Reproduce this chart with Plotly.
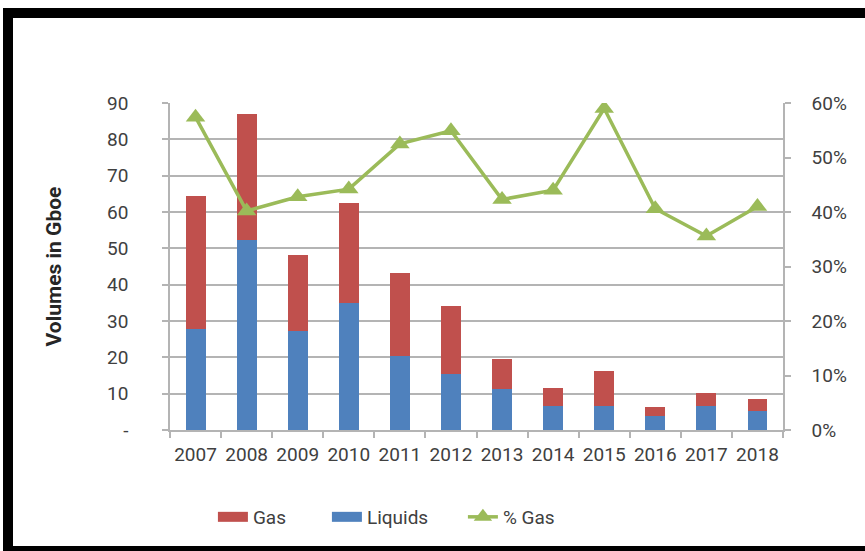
import plotly.graph_objects as go

years = ["2007", "2008", "2009", "2010", "2011", "2012", "2013", "2014", "2015", "2016", "2017", "2018"]
liquids = [27.8, 52.3, 27.3, 34.9, 20.5, 15.4, 11.3, 6.6, 6.6, 3.9, 6.6, 5.2]
gas = [36.7, 34.6, 20.9, 27.5, 22.8, 18.6, 8.2, 5.0, 9.7, 2.3, 3.5, 3.3]
pct_gas = [0.574, 0.402, 0.428, 0.442, 0.525, 0.549, 0.423, 0.440, 0.590, 0.406, 0.356, 0.410]

left_ticks = [0, 10, 20, 30, 40, 50, 60, 70, 80, 90]
left_ticktext = ["-", "10", "20", "30", "40", "50", "60", "70", "80", "90"]

FONT = "Roboto, Arial, sans-serif"
TICK_COLOR = "#404040"
GRID = "#b4b4b4"
C_GAS = "#c0504d"
C_LIQ = "#4f81bd"
C_PCT = "#9bbb59"

fig = go.Figure()
fig.add_trace(go.Bar(x=years, y=liquids, name="Liquids", marker=dict(color=C_LIQ, line=dict(width=0)),
                     showlegend=False))
fig.add_trace(go.Bar(x=years, y=gas, name="Gas", marker=dict(color=C_GAS, line=dict(width=0)),
                     showlegend=False))
fig.add_trace(go.Scatter(x=years, y=pct_gas, name="% Gas", yaxis="y2", mode="lines+markers",
                         line=dict(color=C_PCT, width=3.5),
                         marker=dict(symbol="triangle-up", size=17, color=C_PCT),
                         legendrank=3, legendwidth=70))
# legend-only entries drawn as wide swatches (like the original)
fig.add_trace(go.Scatter(x=[None], y=[None], mode="lines", name="Gas",
                         line=dict(color=C_GAS, width=10), legendrank=1, legendwidth=69))
fig.add_trace(go.Scatter(x=[None], y=[None], mode="lines", name="Liquids",
                         line=dict(color=C_LIQ, width=10), legendrank=2, legendwidth=91))

fig.update_layout(
    width=865, height=551,
    margin=dict(l=170, r=82, t=103, b=121, autoexpand=False),
    paper_bgcolor="white", plot_bgcolor="white",
    barmode="stack", bargap=0.61,
    font=dict(family=FONT, size=19, color=TICK_COLOR),
    showlegend=True,
    legend=dict(orientation="h", x=0.070, xanchor="left", y=-0.266, yanchor="middle",
                font=dict(size=19, color=TICK_COLOR), traceorder="normal",
                bgcolor="rgba(0,0,0,0)", itemwidth=30),
    xaxis=dict(type="category", range=[-0.5, len(years) - 0.5], autorange=False,
               showgrid=False, showline=True, linecolor=GRID, linewidth=1.5,
               ticks="outside", tickson="boundaries", ticklen=6, tickcolor=GRID, tickwidth=1.5,
               tickangle=0, automargin=False,
               tickfont=dict(size=19, color=TICK_COLOR), ticklabelstandoff=6),
    yaxis=dict(range=[0, 90], tickvals=left_ticks, ticktext=left_ticktext,
               showgrid=True, gridcolor=GRID, gridwidth=1.5, zeroline=False,
               showline=True, linecolor=GRID, linewidth=1.5, automargin=False,
               ticks="outside", ticklen=6, tickcolor=GRID, tickwidth=1.5,
               tickfont=dict(size=19, color=TICK_COLOR), ticklabelstandoff=30,
               title=dict(text="<b>Volumes in Gboe</b>", font=dict(size=21, color="#262626"), standoff=40)),
    yaxis2=dict(range=[0, 0.6], dtick=0.1, tickformat=".0%", overlaying="y", side="right",
                showgrid=False, zeroline=False, showline=True, linecolor=GRID, linewidth=1.5,
                ticks="outside", ticklen=6, tickcolor=GRID, tickwidth=1.5, automargin=False,
                tickfont=dict(size=19, color=TICK_COLOR), ticklabelstandoff=17),
)

# black frame around the chart (left, top, bottom edges visible)
fig.add_shape(type="rect", xref="paper", yref="paper",
              x0=(8 - 170) / 613, x1=(900 - 170) / 613,
              y0=(430 - 551) / 327, y1=(430 - 13) / 327,
              line=dict(color="black", width=10), fillcolor="rgba(0,0,0,0)", layer="above")

fig.write_html("out.html")
